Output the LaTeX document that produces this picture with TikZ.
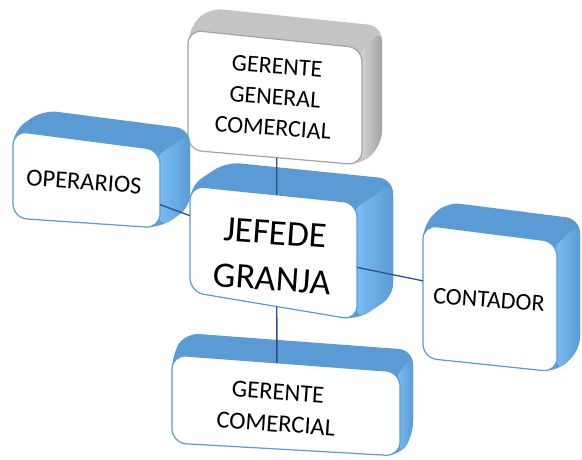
\documentclass[tikz,border=0pt]{standalone}
\usepackage{fontspec}
\setmainfont{Carlito}
\usetikzlibrary{calc}
\definecolor{bluetop}{HTML}{5B9BD5}
\definecolor{bluelight}{HTML}{7CC2F7}
\definecolor{grytop}{HTML}{C4C4C4}
\definecolor{grylight}{HTML}{DEDEDE}
\definecolor{grydark}{HTML}{A3A3A3}
\definecolor{connc}{HTML}{2F4E8F}
\tikzset{
  lbl/.style={align=center, text=black, inner sep=0pt, rotate=-4},
  conn/.style={draw=connc, line width=1.3pt},
}
% #1 name, #2 TL, #3 TR, #4 BR, #5 BL, #6 offset, #7 top colour, #8 light side, #9 dark side/border
\newcommand\threedbox[9]{%
  \path (#2) coordinate (#1-tl) (#3) coordinate (#1-tr) (#4) coordinate (#1-br) (#5) coordinate (#1-bl);
  \path ($(#1-tl)+(#6)$) coordinate (#1-btl) ($(#1-tr)+(#6)$) coordinate (#1-btr) ($(#1-br)+(#6)$) coordinate (#1-bbr);
  \fill[#7, rounded corners=14pt] (#1-bl) -- (#1-tl) -- (#1-btl) -- (#1-btr) -- (#1-bbr) -- (#1-br) -- cycle;
  \shade[left color=#8, right color=#9, rounded corners=12pt] ($(#1-tr)+(-6,8)$) -- ($(#1-btr)+(0,4)$) -- (#1-bbr) -- (#1-br) -- cycle;
  \draw[fill=white, draw=#9, line width=1.2pt, rounded corners=14pt] (#1-tl) -- (#1-tr) -- (#1-br) -- (#1-bl) -- cycle;
}
\begin{document}
\begin{tikzpicture}[x=1pt,y=-1pt]
\useasboundingbox (0,0) rectangle (582,459);
% boxes, back to front
\threedbox{ggc}{188,30}{362,48}{362,165}{188,150}{20,-22}{grytop}{grylight}{grydark}
\node[lbl, font=\fontsize{24}{31}\selectfont] (tggc) at (275,97) {GERENTE\\GENERAL\\COMERCIAL};
\threedbox{op}{13,131}{160,150}{160,228}{13,218}{30,-21}{bluetop}{bluelight}{bluetop}
\node[lbl, font=\fontsize{24.5}{28}\selectfont] (top) at (84,182) {OPERARIOS};
\threedbox{jg}{190,186}{357,203}{357,320}{190,292}{36,-24}{bluetop}{bluelight}{bluetop}
\node[lbl, font=\fontsize{36}{46}\selectfont] (tjg) at (274,256) {JEFEDE\\GRANJA};
\threedbox{ct}{423,225}{557,242}{557,372}{423,358}{23,-23}{bluetop}{bluelight}{bluetop}
\node[lbl, font=\fontsize{24}{28}\selectfont] (tct) at (489,300) {CONTADOR};
\threedbox{gc}{172,355}{400,372}{400,456}{172,443}{13,-22}{bluetop}{bluelight}{bluetop}
\node[lbl, font=\fontsize{24.5}{32}\selectfont] (tgc) at (277,408) {GERENTE\\COMERCIAL};
% connectors between box faces
\draw[conn] ($(ggc-bl)!0.51!(ggc-br)$) -- ($(jg-tl)!0.52!(jg-tr)$);
\draw[conn] ($(jg-bl)!0.52!(jg-br)$) -- ($(gc-tl)!0.46!(gc-tr)$);
\draw[conn] ($(op-tr)!0.7!(op-br)$) -- ($(jg-tl)!0.28!(jg-bl)$);
\draw[conn] ($(jg-tr)!0.55!(jg-br)$) -- ($(ct-tl)!0.42!(ct-bl)$);
\end{tikzpicture}
\end{document}
